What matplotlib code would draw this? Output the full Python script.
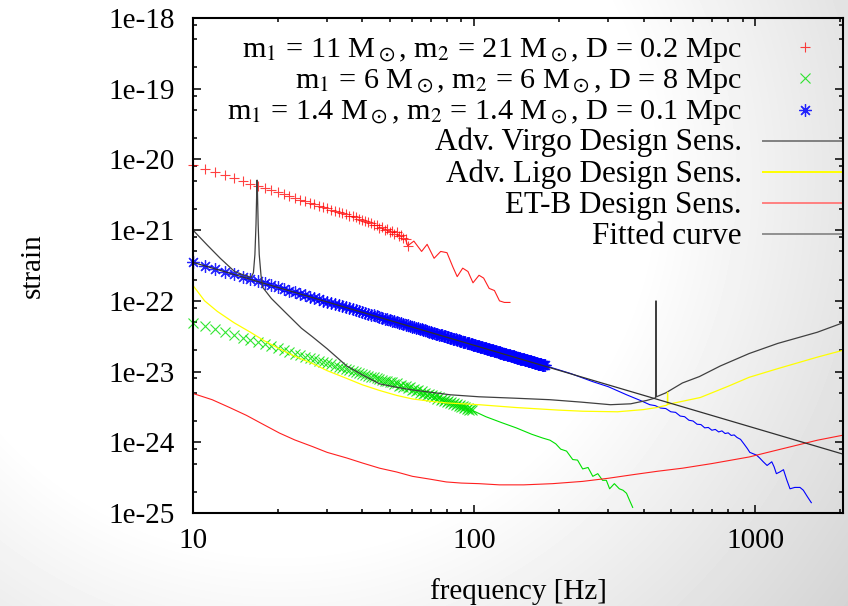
import matplotlib.pyplot as plt
import numpy as np
from matplotlib.ticker import FixedLocator, FixedFormatter, NullFormatter

plt.rcParams['font.family'] = ['Liberation Serif', 'DejaVu Serif']
plt.rcParams['mathtext.fontset'] = 'stix'

# --- data ---
# binary 1: m1 = 11, m2 = 21, D = 0.2 Mpc (points every 1 Hz, then the ringdown tail)
red_f = np.arange(10, 59)
red_s = np.array([8.32, 7.36, 6.59, 5.95, 5.41, 4.95, 4.56, 4.22, 3.92, 3.66,
                  3.43, 3.22, 3.03, 2.86, 2.71, 2.57, 2.45, 2.33, 2.23, 2.13,
                  2.04, 1.95, 1.88, 1.80, 1.74, 1.67, 1.61, 1.56, 1.51, 1.46,
                  1.41, 1.36, 1.30, 1.26, 1.20, 1.17, 1.08, 1.12, 1.00, 1.05,
                  0.93, 0.98, 0.87, 0.93, 0.83, 0.86, 0.78, 0.74, 0.60]) * 1e-21
red_tail_f = [57, 58, 61, 65, 68, 72, 76, 80, 84, 87, 91, 95, 99, 104, 108, 113, 118, 123, 128, 134]
red_tail_s = np.array([7.4, 6.0, 7.0, 5.0, 6.3, 4.0, 5.0, 4.8, 3.0, 2.2,
                       2.9, 2.6, 1.8, 2.3, 2.1, 1.5, 1.4, 1.0, 0.95, 0.95]) * 1e-22

# binary 2: m1 = 6, m2 = 6, D = 8 Mpc
green_f = np.arange(10, 99)
green_s = np.array([4.90, 4.37, 3.94, 3.57, 3.27, 3.01, 2.79, 2.59, 2.42, 2.27,
                    2.13, 2.01, 1.90, 1.80, 1.71, 1.63, 1.56, 1.49, 1.42, 1.36,
                    1.31, 1.26, 1.21, 1.17, 1.13, 1.09, 1.05, 1.02, 0.987, 0.957,
                    0.928, 0.901, 0.875, 0.851, 0.828, 0.806, 0.785, 0.765, 0.746, 0.728,
                    0.711, 0.715, 0.66, 0.68, 0.63, 0.65, 0.60, 0.625, 0.58, 0.60,
                    0.555, 0.575, 0.53, 0.55, 0.505, 0.525, 0.485, 0.505, 0.465, 0.485,
                    0.445, 0.465, 0.43, 0.447, 0.413, 0.43, 0.397, 0.415, 0.385, 0.40,
                    0.37, 0.386, 0.358, 0.374, 0.346, 0.362, 0.335, 0.35, 0.324, 0.339,
                    0.314, 0.33, 0.305, 0.32, 0.296, 0.31, 0.287, 0.30, 0.285]) * 1e-23
green_tail_f = [98, 110, 125, 141, 160, 175, 186, 195, 203, 213, 224, 233, 243,
                254, 264, 275, 286, 295, 303, 315, 328, 338, 348, 357, 366]
green_tail_s = np.array([2.85, 2.3, 1.9, 1.6, 1.3, 1.15, 1.07, 0.95, 0.8, 0.75, 0.57, 0.56, 0.42,
                         0.44, 0.33, 0.36, 0.29, 0.29, 0.22, 0.26, 0.22, 0.21, 0.19, 0.15, 0.12]) * 1e-24

# binary 3: m1 = 1.4, m2 = 1.4, D = 0.1 Mpc
blue_f = np.arange(10, 179)
blue_s = np.array([35.0, 31.3, 28.3, 25.8, 23.6, 21.8, 20.2, 18.8, 17.6, 16.5,
                   15.6, 14.7, 13.95, 13.25, 12.6, 12.0, 11.5, 11.0, 10.5, 10.1,
                   9.71, 9.35, 9.01, 8.69, 8.40, 8.11, 7.86, 7.61, 7.37, 7.15,
                   6.95, 6.75, 6.56, 6.38, 6.21, 6.05, 5.90, 5.76, 5.62, 5.48,
                   5.35, 5.23, 5.11, 5.00, 4.89, 4.79, 4.69, 4.60, 4.50, 4.41,
                   4.33, 4.25, 4.16, 4.09, 4.01, 3.94, 3.87, 3.81, 3.74, 3.68,
                   3.62, 3.56, 3.50, 3.44, 3.39, 3.34, 3.29, 3.24, 3.19, 3.14,
                   3.10, 3.05, 3.01, 2.97, 2.93, 2.88, 2.85, 2.81, 2.77, 2.73,
                   2.70, 2.66, 2.63, 2.60, 2.57, 2.53, 2.50, 2.47, 2.44, 2.41,
                   2.39, 2.36, 2.33, 2.30, 2.28, 2.25, 2.23, 2.21, 2.18, 2.16,
                   2.13, 2.11, 2.09, 2.07, 2.05, 2.03, 2.01, 1.99, 1.97, 1.95,
                   1.93, 1.91, 1.89, 1.87, 1.86, 1.84, 1.82, 1.80, 1.79, 1.77,
                   1.76, 1.74, 1.72, 1.71, 1.69, 1.68, 1.67, 1.65, 1.64, 1.62,
                   1.61, 1.60, 1.58, 1.57, 1.56, 1.55, 1.53, 1.52, 1.51, 1.50,
                   1.49, 1.47, 1.46, 1.45, 1.44, 1.43, 1.42, 1.41, 1.40, 1.39,
                   1.38, 1.37, 1.36, 1.35, 1.34, 1.33, 1.32, 1.31, 1.30, 1.29,
                   1.28, 1.27, 1.27, 1.26, 1.25, 1.24, 1.23, 1.22, 1.22]) * 1e-23
blue_tail_f = [178, 220, 264, 300, 348, 390, 421, 440, 460, 480, 500, 520, 540, 560, 580,
               600, 620, 640, 660, 680, 700, 720, 740, 760, 780, 800, 820, 840, 860,
               885, 910, 935, 955, 980, 1008, 1035, 1066, 1100, 1143, 1165, 1187, 1220,
               1258, 1290, 1327, 1380, 1440, 1480, 1530, 1580]
blue_tail_s = np.array([12.2, 9.4, 7.2, 6.1, 4.7, 3.9, 3.4, 3.3, 3.05, 3.0, 2.7, 2.65, 2.35, 2.3, 2.05,
                        2.0, 1.8, 1.78, 1.6, 1.62, 1.48, 1.52, 1.4, 1.45, 1.33, 1.36, 1.25, 1.27, 1.17,
                        1.1, 0.95, 0.82, 0.72, 0.69, 0.66, 0.6, 0.53, 0.47, 0.53, 0.45, 0.36, 0.38,
                        0.41, 0.3, 0.22, 0.23, 0.23, 0.21, 0.17, 0.14]) * 1e-24

# detector design sensitivities
virgo_f = [10, 11.26, 12.5, 14.05, 15.0, 16.1, 16.4, 16.6, 16.75, 16.85, 16.9, 16.95, 17.05,
           17.2, 17.45, 17.7, 19.0, 21.2, 24.3, 26.6, 30, 35.2, 40, 46.1, 53, 60.3, 70, 82,
           104, 140, 186, 240, 305, 360, 410, 438, 441.5, 442.5, 443, 443.5, 444.5, 480, 550,
           632, 750, 950, 1200, 1660, 2048]
virgo_s = [1.0e-21, 6.1e-22, 4.0e-22, 2.6e-22, 2.35e-22, 2.15e-22, 2.5e-22, 4.5e-22, 1.2e-21,
           3.5e-21, 5.1e-21, 3.5e-21, 1.2e-21, 4.5e-22, 2.3e-22, 1.55e-22, 1.08e-22, 7.0e-23,
           4.1e-23, 3.1e-23, 2.1e-23, 1.2e-23, 9.0e-24, 6.7e-24, 6.0e-24, 5.5e-24, 5.1e-24,
           4.7e-24, 4.4e-24, 4.2e-24, 4.0e-24, 3.7e-24, 3.4e-24, 3.5e-24, 3.9e-24, 4.2e-24,
           4.3e-24, 3e-23, 1.0e-22, 3e-23, 4.4e-24, 5.0e-24, 6.9e-24, 8.5e-24, 1.2e-23,
           1.8e-23, 2.5e-23, 3.6e-23, 4.9e-23]

ligo_f = [10, 11, 12.2, 14, 16, 18, 20.3, 23, 26.6, 30, 35.2, 40, 46.1, 53, 60.3, 70, 80, 104,
          141, 200, 243, 323, 400, 446, 484, 486, 487, 488, 490, 550, 637, 800, 950, 1200, 1660, 2048]
ligo_s = np.array([165, 100, 71, 49, 36, 27, 21, 16.5, 13, 10.3, 8.0, 6.5, 5.4, 4.6, 4.1, 3.8, 3.6, 3.4,
                   3.1, 2.85, 2.75, 2.7, 2.9, 3.1, 3.35, 3.4, 5.1, 3.45, 3.45, 3.8, 4.3, 6.2, 8.3, 11,
                   16, 20]) * 1e-24

etb_f = [10, 11.7, 13.5, 15.5, 17.5, 20.3, 23, 26.6, 30, 35.2, 40, 46.1, 53, 60.3, 70, 79.5, 90,
         104, 123, 150, 190, 243, 300, 370, 450, 550, 700, 950, 1200, 1660, 2048]
etb_s = np.array([49, 40, 31, 24, 18.5, 13.5, 10.8, 8.7, 7.2, 6.0, 5.1, 4.3, 3.8, 3.3, 3.0, 2.75,
                  2.65, 2.6, 2.5, 2.5, 2.6, 2.8, 3.1, 3.5, 3.9, 4.3, 5.0, 6.2, 7.8, 10.7, 12.6]) * 1e-25

# power-law fit to binary 3
fit_f = [10, 2048]
fit_s = [3.5e-22, 6.8e-25]

labels = [r'm$_1$ = 11 M$_\odot$, m$_2$ = 21 M$_\odot$, D = 0.2 Mpc',
          r'm$_1$ = 6 M$_\odot$, m$_2$ = 6 M$_\odot$, D = 8 Mpc',
          r'm$_1$ = 1.4 M$_\odot$, m$_2$ = 1.4 M$_\odot$, D = 0.1 Mpc',
          'Adv. Virgo Design Sens.',
          'Adv. Ligo Design Sens.',
          'ET-B Design Sens.',
          'Fitted curve']

xticks = [10, 100, 1000]
yexp = list(range(-25, -17))

# --- figure ---
fig = plt.figure(figsize=(8.48, 6.06), dpi=100)

# grey radial shading of the page
bg = fig.add_axes([0, 0, 1, 1], zorder=-10)
yy, xx = np.mgrid[0:606, 0:848]
rr = np.hypot(xx - 280, yy - 180)
shade = 1 - 0.17 * np.clip((rr - 370) / 340, 0, 1)
bg.imshow(shade, cmap='gray', vmin=0, vmax=1, aspect='auto', interpolation='bilinear')
bg.axis('off')

ax = fig.add_axes([193 / 848, 1 - 513 / 606, 650 / 848, 495 / 606])
ax.set_facecolor('none')
ax.set_xscale('log')
ax.set_yscale('log')

red_pt = dict(ls='none', marker='+', ms=7, mew=0.8, color='#ff0000', alpha=0.75)
green_pt = dict(ls='none', marker='x', ms=6.5, mew=0.8, color='#00e000', alpha=0.8)
blue_pt = dict(ls='none', marker=(8, 2, 0), ms=9, mew=0.9, color='#0000ff', alpha=0.85)

ax.plot(red_f, red_s, clip_on=False, **red_pt)
ax.plot(red_tail_f, red_tail_s, color='#ff2020', lw=0.8)
ax.plot(green_f, green_s, clip_on=False, **green_pt)
ax.plot(green_tail_f, green_tail_s, color='#00e000', lw=0.8)
ax.plot(blue_f, blue_s, clip_on=False, **blue_pt)
ax.plot(blue_tail_f, blue_tail_s, color='#0000ff', lw=0.8)
ax.plot(virgo_f, virgo_s, color='#404040', lw=0.9)
ax.plot(ligo_f, ligo_s, color='#ffff00', lw=0.9)
ax.plot(etb_f, etb_s, color='#ff2020', lw=0.8)
ax.plot(fit_f, fit_s, color='#303030', lw=0.9)

ax.set_xlim(10, 2048)
ax.set_ylim(1e-25, 1e-18)

ax.xaxis.set_major_locator(FixedLocator(xticks))
ax.xaxis.set_major_formatter(FixedFormatter([str(t) for t in xticks]))
ax.xaxis.set_minor_locator(FixedLocator([m * 10.0 ** e for e in (1, 2, 3) for m in range(2, 10)]))
ax.xaxis.set_minor_formatter(NullFormatter())
ax.yaxis.set_major_locator(FixedLocator([10.0 ** e for e in yexp]))
ax.yaxis.set_major_formatter(FixedFormatter(['1e%d' % e for e in yexp]))
ax.yaxis.set_minor_locator(FixedLocator([m * 10.0 ** e for e in yexp for m in (2, 5, 8)]))
ax.yaxis.set_minor_formatter(NullFormatter())

ax.tick_params(which='both', direction='in', top=True, right=True, width=1.1, labelsize=21)
ax.tick_params(which='major', length=6)
ax.tick_params(which='minor', length=3)
ax.tick_params(axis='x', which='major', pad=11)
ax.tick_params(axis='y', which='major', pad=13)
for sp in ax.spines.values():
    sp.set_linewidth(1.5)

fig.text(518 / 848, 1 - 599 / 606, 'frequency [Hz]', ha='center', va='baseline', fontsize=21)
fig.text(33 / 848, 1 - 265.5 / 606, 'strain', rotation=90, ha='center', va='center', fontsize=21)

# key, drawn gnuplot-style: right-aligned text, sample at the right edge
styles = [red_pt, green_pt, blue_pt,
          dict(color='#808080', lw=1.4),
          dict(color='#ffff00', lw=1.4),
          dict(color='#ff8080', lw=1.4),
          dict(color='#909090', lw=1.4)]
sizes = [21.8, 21.8, 21.8, 22.4, 22.4, 22.4, 22.4]
for i, (lab, st, fs) in enumerate(zip(labels, styles, sizes)):
    yk = 0.941 - 0.063 * i
    ax.text(0.8446, yk - 0.0194, lab, ha='right', va='baseline', fontsize=fs,
            transform=ax.transAxes)
    if st.get('ls') == 'none':
        ax.plot([0.9415], [yk], transform=ax.transAxes, clip_on=False, **st)
    else:
        ax.plot([0.877, 1.0], [yk, yk], transform=ax.transAxes, clip_on=False, **st)

fig.savefig('out.png', dpi=100)
